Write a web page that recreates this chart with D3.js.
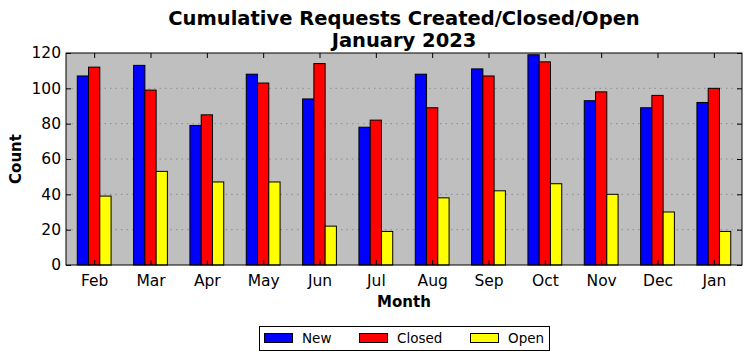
<!DOCTYPE html>
<html><head><meta charset="utf-8">
<script src="https://cdn.jsdelivr.net/npm/d3@7"></script>
<style>body{margin:0;background:#fff}svg{display:block}text{font-family:"DejaVu Sans",sans-serif}</style>
</head><body>
<svg id="c" width="752" height="361"></svg>
<script>
const months = ["Feb","Mar","Apr","May","Jun","Jul","Aug","Sep","Oct","Nov","Dec","Jan"];
const newVals = [107,113,79,108,94,78,108,111,119,93,89,92];
const closedVals = [112,99,85,103,114,82,89,107,115,98,96,100];
const openVals = [39,53,47,47,22,19,38,42,46,40,30,19];
const yTicks = [0,20,40,60,80,100,120];
const seriesNames = ["New","Closed","Open"];
const seriesColors = ["#0000ff","#ff0000","#ffff00"];

const series = [newVals, closedVals, openVals];
const svg = d3.select("#c");
const L = 66, R = 742, T = 53, B = 265;
const x = d3.scaleLinear().domain([-0.5, months.length - 0.5]).range([L, R]);
const y = d3.scaleLinear().domain([0, 120]).range([B, T]);
const bw = 0.2;

svg.append("rect").attr("x", L).attr("y", T).attr("width", R - L).attr("height", B - T).attr("fill", "#bfbfbf");

// grid
svg.append("g").selectAll("line").data(yTicks.filter(d => d > 0 && d < 120)).join("line")
  .attr("x1", L).attr("x2", R).attr("y1", d => y(d)).attr("y2", d => y(d))
  .attr("stroke", "#808080").attr("stroke-width", 0.8).attr("stroke-dasharray", "1.5,4");

// bars
series.forEach((vals, si) => {
  svg.append("g").selectAll("rect").data(vals).join("rect")
    .attr("x", (d, i) => x(i + (si - 1) * bw - bw / 2))
    .attr("width", x(bw) - x(0))
    .attr("y", d => y(d))
    .attr("height", d => y(0) - y(d))
    .attr("fill", seriesColors[si]).attr("stroke", "#000").attr("stroke-width", 1);
});

// frame
svg.append("rect").attr("x", L).attr("y", T).attr("width", R - L).attr("height", B - T)
  .attr("fill", "none").attr("stroke", "#000").attr("stroke-width", 1);

// axes
const xAxis = d3.axisBottom(x).tickValues(d3.range(months.length)).tickFormat(i => months[i]).tickSizeInner(-5).tickSizeOuter(0).tickPadding(10);
const gx = svg.append("g").attr("transform", `translate(0,${B})`).call(xAxis);
const xTop = d3.axisTop(x).tickValues(d3.range(months.length)).tickFormat("").tickSizeInner(-5).tickSizeOuter(0);
const gxt = svg.append("g").attr("transform", `translate(0,${T})`).call(xTop);
const yAxis = d3.axisLeft(y).tickValues(yTicks).tickSizeInner(-5).tickSizeOuter(0).tickPadding(5);
const gy = svg.append("g").attr("transform", `translate(${L},0)`).call(yAxis);
const yRight = d3.axisRight(y).tickValues(yTicks).tickFormat("").tickSizeInner(-5).tickSizeOuter(0);
const gyr = svg.append("g").attr("transform", `translate(${R},0)`).call(yRight);
[gx, gxt, gy, gyr].forEach(g => {
  g.select(".domain").remove();
  g.selectAll("text").attr("font-family", "DejaVu Sans").attr("font-size", 15.5).attr("fill", "#000");
  g.selectAll("line").attr("stroke", "#000");
});

// titles
svg.append("text").attr("x", 404).attr("y", 25).attr("text-anchor", "middle").attr("font-weight", "bold").attr("font-size", 19.5).text("Cumulative Requests Created/Closed/Open");
svg.append("text").attr("x", 404).attr("y", 47).attr("text-anchor", "middle").attr("font-weight", "bold").attr("font-size", 19.5).text("January 2023");
svg.append("text").attr("x", 404).attr("y", 307).attr("text-anchor", "middle").attr("font-weight", "bold").attr("font-size", 15).text("Month");
svg.append("text").attr("transform", "translate(21,159) rotate(-90)").attr("text-anchor", "middle").attr("font-weight", "bold").attr("font-size", 15).text("Count");

// legend
const lg = svg.append("g");
lg.append("rect").attr("x", 259.5).attr("y", 326.5).attr("width", 290).attr("height", 24).attr("fill", "#fff").attr("stroke", "#000");
const lx = [264, 359, 470];
seriesNames.forEach((n, i) => {
  lg.append("rect").attr("x", lx[i] + 0.5).attr("y", 333.5).attr("width", 28).attr("height", 9).attr("fill", seriesColors[i]).attr("stroke", "#000");
  lg.append("text").attr("x", lx[i] + 38).attr("y", 343).attr("font-size", 13.5).text(n);
});
</script>
</body></html>
